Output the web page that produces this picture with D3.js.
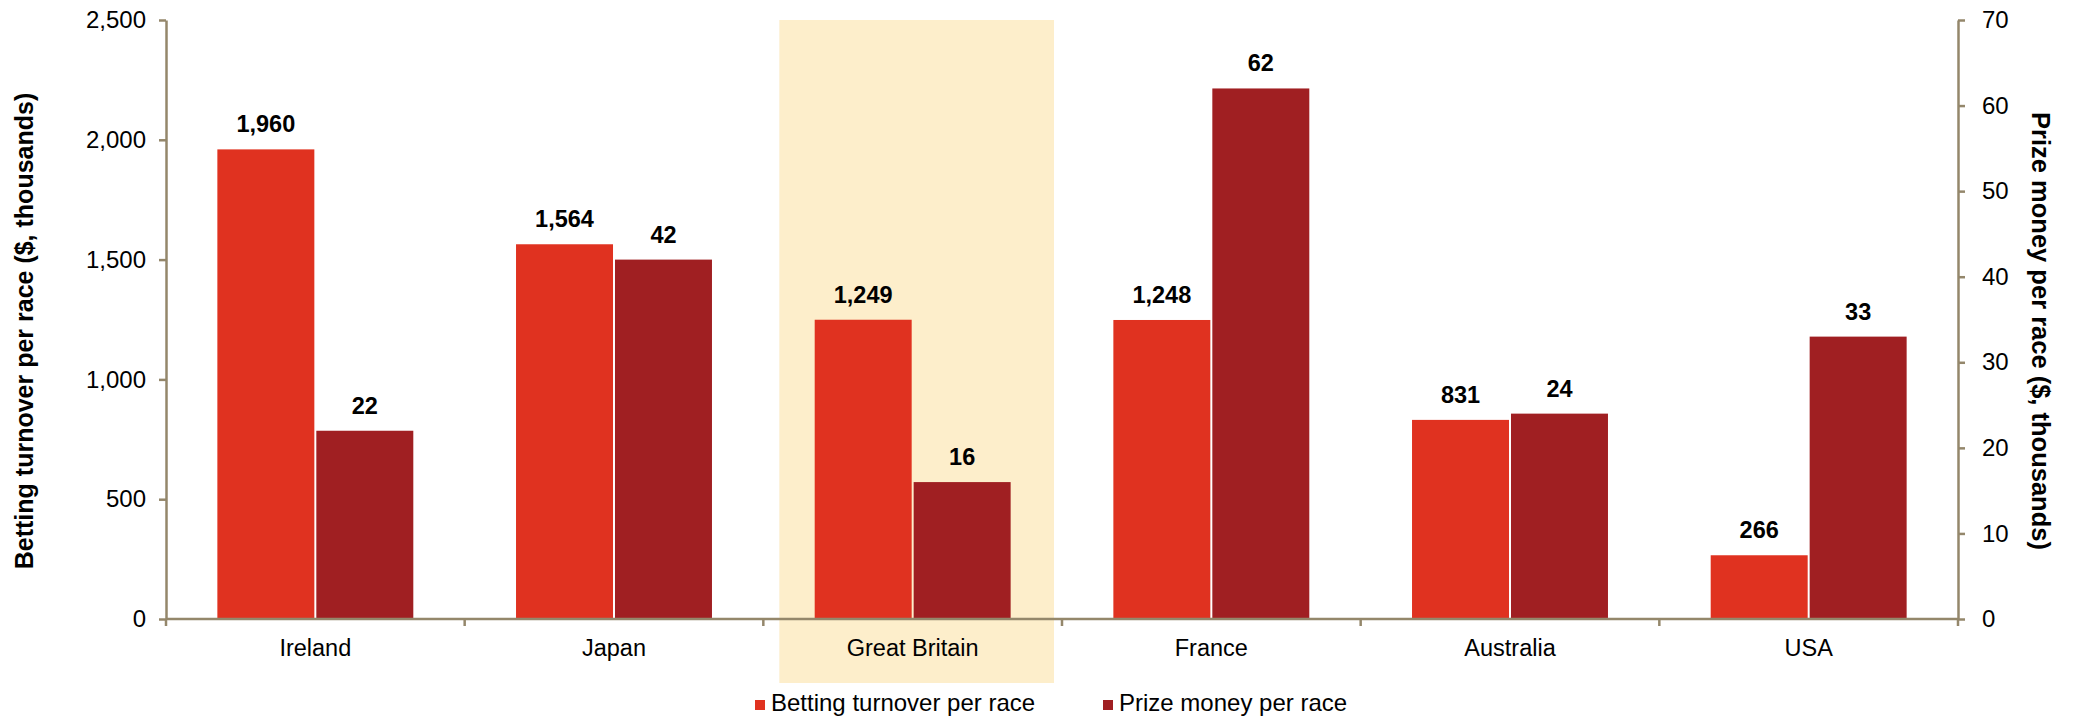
<!DOCTYPE html>
<html>
<head>
<meta charset="utf-8">
<script src="https://cdn.jsdelivr.net/npm/d3@7"></script>
<style>
  html, body { margin: 0; padding: 0; background: #fff; }
  svg { display: block; font-family: "Liberation Sans", Arial, sans-serif; }
</style>
</head>
<body>
<svg id="chart" width="2076" height="718"></svg>
<script>
const categories = ["Ireland", "Japan", "Great Britain", "France", "Australia", "USA"];
const seriesNames = ["Betting turnover per race", "Prize money per race"];
const turnover = [1960, 1564, 1249, 1248, 831, 266];
const prizeMoney = [22, 42, 16, 62, 24, 33];
const leftTicks = [0, 500, 1000, 1500, 2000, 2500];
const rightTicks = [0, 10, 20, 30, 40, 50, 60, 70];
const highlighted = "Great Britain";
const leftTitle = "Betting turnover per race ($, thousands)";
const rightTitle = "Prize money per race ($, thousands)";

(function () {
const colors = { turn: "#E03220", prize: "#A01F22", axis: "#94876B", highlight: "#FDEECB" };

const svg = d3.select("#chart");
const pL = 166, pR = 1958, pT = 20, pB = 619;

const x = d3.scaleBand().domain(categories).range([pL, pR]).paddingInner(0).paddingOuter(0);
const x1 = d3.scaleBand().domain(seriesNames).range([0, x.bandwidth()]).paddingInner(0.02).paddingOuter(0.519);
const yL = d3.scaleLinear().domain([0, 2500]).range([pB, pT]);
const yR = d3.scaleLinear().domain([0, 70]).range([pB, pT]);

// highlight band
svg.append("rect")
  .attr("x", x(highlighted) + 16)
  .attr("y", pT)
  .attr("width", x.bandwidth() - 24)
  .attr("height", 683 - pT)
  .attr("fill", colors.highlight);

const data = categories.map((c, i) => ({ c, t: turnover[i], p: prizeMoney[i] }));

// bars
svg.append("g").selectAll("rect").data(data).join("rect")
  .attr("x", d => x(d.c) + x1(seriesNames[0]))
  .attr("y", d => yL(d.t))
  .attr("width", x1.bandwidth())
  .attr("height", d => yL(0) - yL(d.t))
  .attr("fill", colors.turn);

svg.append("g").selectAll("rect").data(data).join("rect")
  .attr("x", d => x(d.c) + x1(seriesNames[1]))
  .attr("y", d => yR(d.p))
  .attr("width", x1.bandwidth())
  .attr("height", d => yR(0) - yR(d.p))
  .attr("fill", colors.prize);

// value labels
const fmt = d3.format(",");
svg.append("g").selectAll("text").data(data).join("text")
  .attr("x", d => x(d.c) + x1(seriesNames[0]) + x1.bandwidth() / 2)
  .attr("y", d => yL(d.t) - 17)
  .attr("text-anchor", "middle")
  .attr("font-size", 23.5).attr("font-weight", "bold").attr("fill", "#000")
  .text(d => fmt(d.t));

svg.append("g").selectAll("text").data(data).join("text")
  .attr("x", d => x(d.c) + x1(seriesNames[1]) + x1.bandwidth() / 2)
  .attr("y", d => yR(d.p) - 17)
  .attr("text-anchor", "middle")
  .attr("font-size", 23.5).attr("font-weight", "bold").attr("fill", "#000")
  .text(d => fmt(d.p));

function styleAxis(g) {
  g.selectAll(".domain").attr("stroke", colors.axis).attr("stroke-width", 2.5);
  g.selectAll(".tick line").attr("stroke", colors.axis).attr("stroke-width", 2.5);
  g.selectAll(".tick text").attr("fill", "#000").attr("font-size", 24)
    .attr("font-family", "'Liberation Sans', Arial, sans-serif");
}

// left axis
const gL = svg.append("g").attr("transform", `translate(${pL},0)`)
  .call(d3.axisLeft(yL).tickValues(leftTicks).tickFormat(fmt).tickSize(7).tickSizeOuter(0).tickPadding(13));
styleAxis(gL);

// right axis
const gR = svg.append("g").attr("transform", `translate(${pR},0)`)
  .call(d3.axisRight(yR).tickValues(rightTicks).tickSize(7).tickSizeOuter(0).tickPadding(17));
styleAxis(gR);

// bottom axis: ticks at category boundaries
const gB = svg.append("g").attr("transform", `translate(0,${pB})`);
gB.append("line").attr("x1", pL).attr("x2", pR).attr("y1", 0).attr("y2", 0)
  .attr("stroke", colors.axis).attr("stroke-width", 2.5);
const boundaries = categories.map(c => x(c)).concat([pR]);
gB.selectAll("line.tk").data(boundaries).join("line").attr("class", "tk")
  .attr("x1", d => d).attr("x2", d => d).attr("y1", 0).attr("y2", 7)
  .attr("stroke", colors.axis).attr("stroke-width", 2.5);
gB.selectAll("text").data(categories).join("text")
  .attr("x", d => x(d) + x.bandwidth() / 2)
  .attr("y", 37)
  .attr("text-anchor", "middle")
  .attr("font-size", 23.5).attr("fill", "#000")
  .text(d => d);

// axis titles
svg.append("text")
  .attr("transform", `translate(33,331) rotate(-90)`)
  .attr("text-anchor", "middle")
  .attr("font-size", 25).attr("font-weight", "bold").attr("fill", "#000")
  .text(leftTitle);
svg.append("text")
  .attr("transform", `translate(2032,331) rotate(90)`)
  .attr("text-anchor", "middle")
  .attr("font-size", 25.5).attr("font-weight", "bold").attr("fill", "#000")
  .text(rightTitle);

// legend
const legendX = [755, 1103];
const legendColors = [colors.turn, colors.prize];
const lg = svg.append("g").selectAll("g").data(seriesNames).join("g")
  .attr("transform", (d, i) => `translate(${legendX[i]},700)`);
lg.append("rect").attr("width", 10).attr("height", 10).attr("fill", (d, i) => legendColors[i]);
lg.append("text").attr("x", 16).attr("y", 11).attr("font-size", 24).attr("fill", "#000").text(d => d);
})();
</script>
</body>
</html>
